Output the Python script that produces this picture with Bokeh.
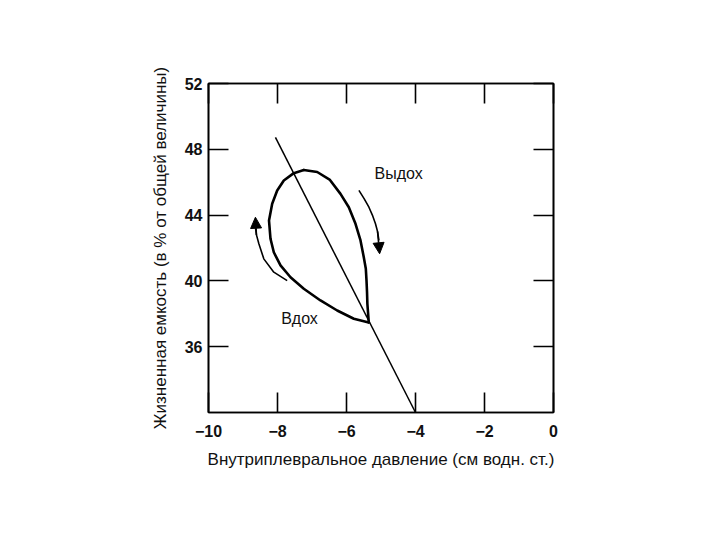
from bokeh.plotting import figure
from bokeh.models import LinearAxis, FixedTicker, Range1d, Arrow, NormalHead, Label
from bokeh.embed import file_html
from bokeh.resources import INLINE

# ---- data ----
x_ticks = [-10, -8, -6, -4, -2, 0]
x_tick_labels = ["−10", "−8", "−6", "−4", "−2", "0"]
y_ticks = [36, 40, 44, 48, 52]
y_tick_labels = ["36", "40", "44", "48", "52"]

# inspiration branch (corner -> left side -> top)
insp_x = [-5.354, -5.788, -6.270, -6.754, -7.238, -7.623, -7.913, -8.107,
          -8.203, -8.246, -8.154, -8.009, -7.817, -7.528, -7.238]
insp_y = [37.47, 37.70, 38.20, 38.81, 39.52, 40.22, 40.94, 41.74,
          42.56, 43.67, 44.69, 45.50, 46.10, 46.55, 46.74]
# expiration branch (top -> right side -> corner)
exp_x = [-7.238, -6.849, -6.490, -6.174, -5.933, -5.739, -5.594, -5.499,
         -5.440, -5.420, -5.405, -5.395, -5.354]
exp_y = [46.74, 46.62, 46.16, 45.29, 44.48, 43.47, 42.46, 41.44,
         40.74, 40.02, 39.31, 38.61, 37.47]

# straight compliance line
line_x = [-8.06, -4.0]
line_y = [48.72, 32.0]

# curved direction arrows
arrow_in_x = [-7.72, -8.107, -8.397, -8.54, -8.61, -8.64, -8.64]
arrow_in_y = [40.02, 40.53, 41.34, 42.26, 42.80, 43.26, 43.87]
arrow_ex_x = [-5.64, -5.49, -5.35, -5.25, -5.16, -5.10, -5.06, -5.04]
arrow_ex_y = [45.50, 45.00, 44.48, 44.00, 43.47, 43.00, 42.46, 41.65]

text_labels = ["Выдох", "Вдох"]
text_x = [-4.49, -7.36]
text_y = [46.50, 37.74]

x_title = "Внутриплевральное давление (см водн. ст.)"
y_title = "Жизненная емкость (в % от общей величины)"

FONT = "Liberation Sans"

p = figure(width=704, height=524, x_range=Range1d(-10, 0), y_range=Range1d(32, 52),
           output_backend="svg", toolbar_location=None,
           min_border_left=208, min_border_top=83, min_border_right=151, min_border_bottom=112)
p.grid.visible = False
p.outline_line_color = "black"
p.outline_line_width = 1.6
p.background_fill_color = "white"
p.border_fill_color = "white"


def style_axis(ax, show_labels):
    ax.axis_line_width = 1.6
    ax.axis_line_color = "black"
    ax.major_tick_in = 20
    ax.major_tick_out = 0
    ax.major_tick_line_width = 1.6
    ax.major_tick_line_color = "black"
    ax.minor_tick_line_color = None
    ax.major_label_text_font = FONT
    ax.major_label_text_font_style = "bold"
    ax.major_label_text_font_size = "16px"
    ax.major_label_text_color = "#111111" if show_labels else None
    ax.axis_label_text_font = FONT
    ax.axis_label_text_font_style = "normal"
    ax.axis_label_text_font_size = "17px"
    ax.axis_label_text_color = "#111111"


xax = p.xaxis[0]
xax.ticker = FixedTicker(ticks=x_ticks)
xax.major_label_overrides = dict(zip(x_ticks, x_tick_labels))
xax.axis_label = x_title
style_axis(xax, True)
xax.major_label_standoff = 12
xax.axis_label_standoff = 10

yax = p.yaxis[0]
yax.ticker = FixedTicker(ticks=y_ticks)
yax.major_label_overrides = dict(zip(y_ticks, y_tick_labels))
yax.axis_label = y_title
style_axis(yax, True)
yax.major_label_standoff = 6
yax.axis_label_standoff = 12

rax = LinearAxis(ticker=FixedTicker(ticks=y_ticks))
style_axis(rax, False)
p.add_layout(rax, "right")
tax = LinearAxis(ticker=FixedTicker(ticks=x_ticks))
style_axis(tax, False)
p.add_layout(tax, "above")

# compliance line
p.line(line_x, line_y, line_color="black", line_width=1.5)
# loop
p.line(insp_x, insp_y, line_color="black", line_width=2.6, line_join="round", line_cap="round")
p.line(exp_x, exp_y, line_color="black", line_width=2.6, line_join="round", line_cap="round")

# arrows
for ax_, ay_ in ((arrow_in_x, arrow_in_y), (arrow_ex_x, arrow_ex_y)):
    p.line(ax_[:-1], ay_[:-1], line_color="black", line_width=1.6, line_join="round")
    p.add_layout(Arrow(end=NormalHead(size=11, fill_color="black", line_color="black"),
                       x_start=ax_[-3], y_start=ay_[-3], x_end=ax_[-1], y_end=ay_[-1],
                       line_color="black", line_width=1.6))

for t, tx, ty in zip(text_labels, text_x, text_y):
    p.add_layout(Label(x=tx, y=ty, text=t, text_font=FONT, text_font_size="16px",
                       text_align="center", text_baseline="middle", text_color="#111111"))

open("out.html", "w").write(file_html(p, INLINE))
